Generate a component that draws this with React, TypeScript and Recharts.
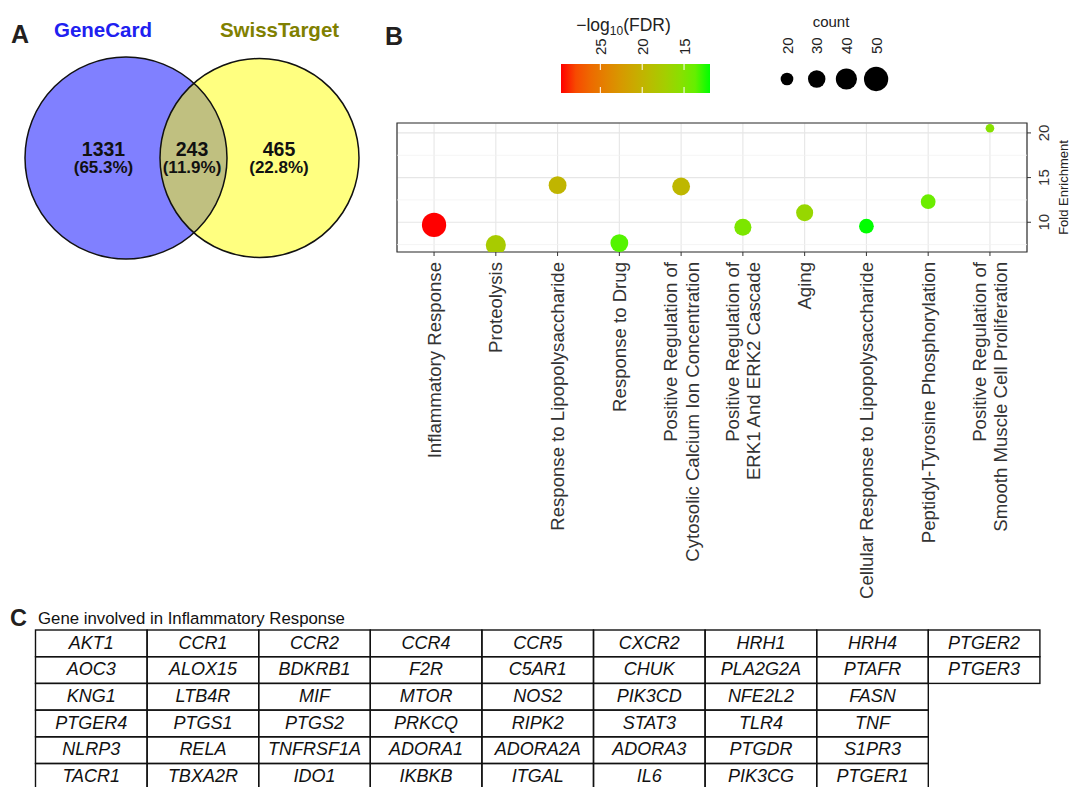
import React from 'react';
import { ScatterChart, Scatter, XAxis, YAxis, ZAxis, CartesianGrid, ReferenceLine, ReferenceArea, Cell } from 'recharts';

const FONT = '"Liberation Sans", Arial, Helvetica, sans-serif';

// A: Venn
const vennSets = ['GeneCard', 'SwissTarget'];
const vennCounts = [1331, 243, 465]; // GeneCard only, both, SwissTarget only

// B: GO bubble chart
const terms = [
  'Inflammatory Response',
  'Proteolysis',
  'Response to Lipopolysaccharide',
  'Response to Drug',
  'Positive Regulation of\nCytosolic Calcium Ion Concentration',
  'Positive Regulation of\nERK1 And ERK2 Cascade',
  'Aging',
  'Cellular Response to Lipopolysaccharide',
  'Peptidyl-Tyrosine Phosphorylation',
  'Positive Regulation of\nSmooth Muscle Cell Proliferation',
];
const foldEnrichment = [9.7, 7.45, 14.15, 7.67, 14.0, 9.44, 11.07, 9.56, 12.3, 20.52];
const geneCount = [50, 37, 31, 31, 31, 29, 29, 24, 24, 14];
const negLogFDR = [29.7, 17.6, 19.8, 13.1, 19.6, 14.7, 16.3, 11.9, 13.9, 15.3];
const yTicks = [10, 15, 20];
const yMinor = [7.5, 12.5, 17.5];
const fdrTicks = [25, 20, 15];
const countTicks = [20, 30, 40, 50];

// C: genes table
const geneRows = [
  ['AKT1', 'CCR1', 'CCR2', 'CCR4', 'CCR5', 'CXCR2', 'HRH1', 'HRH4', 'PTGER2'],
  ['AOC3', 'ALOX15', 'BDKRB1', 'F2R', 'C5AR1', 'CHUK', 'PLA2G2A', 'PTAFR', 'PTGER3'],
  ['KNG1', 'LTB4R', 'MIF', 'MTOR', 'NOS2', 'PIK3CD', 'NFE2L2', 'FASN'],
  ['PTGER4', 'PTGS1', 'PTGS2', 'PRKCQ', 'RIPK2', 'STAT3', 'TLR4', 'TNF'],
  ['NLRP3', 'RELA', 'TNFRSF1A', 'ADORA1', 'ADORA2A', 'ADORA3', 'PTGDR', 'S1PR3'],
  ['TACR1', 'TBXA2R', 'IDO1', 'IKBKB', 'ITGAL', 'IL6', 'PIK3CG', 'PTGER1'],
];

// --- colour scale (green -> red in Lab, like ggplot gradient) ---
const toLin = (c: number) => { c /= 255; return c <= 0.04045 ? c / 12.92 : Math.pow((c + 0.055) / 1.055, 2.4); };
const fromLin = (c: number) => {
  const v = c <= 0.0031308 ? 12.92 * c : 1.055 * Math.pow(c, 1 / 2.4) - 0.055;
  return Math.round(Math.max(0, Math.min(1, v)) * 255);
};
const Xn = 0.95047, Zn = 1.08883;
const f = (t: number) => (t > 0.008856 ? Math.cbrt(t) : 7.787 * t + 16 / 116);
const fi = (t: number) => (t > 0.206893 ? t * t * t : (t - 16 / 116) / 7.787);
function hexToLab(hex: string) {
  const r = toLin(parseInt(hex.slice(1, 3), 16));
  const g = toLin(parseInt(hex.slice(3, 5), 16));
  const b = toLin(parseInt(hex.slice(5, 7), 16));
  const X = (0.4124 * r + 0.3576 * g + 0.1805 * b) / Xn;
  const Y = 0.2126 * r + 0.7152 * g + 0.0722 * b;
  const Z = (0.0193 * r + 0.1192 * g + 0.9505 * b) / Zn;
  return [116 * f(Y) - 16, 500 * (f(X) - f(Y)), 200 * (f(Y) - f(Z))];
}
function labToHex([L, a, b]: number[]) {
  const fy = (L + 16) / 116;
  const X = Xn * fi(fy + a / 500), Y = fi(fy), Z = Zn * fi(fy - b / 200);
  const r = 3.2406 * X - 1.5372 * Y - 0.4986 * Z;
  const g = -0.9689 * X + 1.8758 * Y + 0.0415 * Z;
  const bl = 0.0557 * X - 0.204 * Y + 1.057 * Z;
  return '#' + [r, g, bl].map((c) => fromLin(c).toString(16).padStart(2, '0')).join('');
}
const LOW = hexToLab('#00ff00');
const HIGH = hexToLab('#ff0000');
const fdrMin = Math.min(...negLogFDR);
const fdrMax = Math.max(...negLogFDR);
const fdrColor = (v: number) => {
  const t = (v - fdrMin) / (fdrMax - fdrMin);
  return labToHex(LOW.map((l, k) => l + (HIGH[k] - l) * t));
};

// --- size scale (symbol area) ---
const SIZE_DOMAIN = [10, 50];
const SIZE_RANGE = [14, 464];
const areaFor = (c: number) =>
  SIZE_RANGE[0] + ((c - SIZE_DOMAIN[0]) / (SIZE_DOMAIN[1] - SIZE_DOMAIN[0])) * (SIZE_RANGE[1] - SIZE_RANGE[0]);

const data = terms.map((term, i) => ({
  idx: i + 1,
  term,
  fe: foldEnrichment[i],
  count: geneCount[i],
  fdr: negLogFDR[i],
}));

const X_DOMAIN = [0.4, terms.length + 0.6];
const Y_DOMAIN = [6.67, 21.11];

const XTick = (props: any) => {
  const { x, y, payload } = props;
  const lines = terms[Math.round(payload.value) - 1].split('\n');
  const lh = 21.6;
  return (
    <g transform={`translate(${x},${y + 4}) rotate(-90)`}>
      <text textAnchor="end" fontSize={18.6} fill="#333" fontFamily={FONT}>
        {lines.map((l, k) => (
          <tspan key={k} x={0} y={6.6 + (k - (lines.length - 1) / 2) * lh}>{l}</tspan>
        ))}
      </text>
    </g>
  );
};

const YTick = (props: any) => {
  const { x, y, payload } = props;
  return (
    <text transform={`translate(${x + 16},${y}) rotate(-90)`} textAnchor="middle" fontSize={15} fill="#333" fontFamily={FONT}>
      {payload.value}
    </text>
  );
};

const Venn = () => {
  const total = vennCounts.reduce((a, b) => a + b, 0);
  const pct = vennCounts.map((c) => `(${((c / total) * 100).toFixed(1)}%)`);
  const numX = [103.5, 192, 279];
  return (
    <g fontFamily={FONT} fontWeight="bold">
      <defs>
        <clipPath id="leftC"><circle cx={126} cy={158} r={101} /></clipPath>
      </defs>
      <circle cx={126} cy={158} r={101} fill="#8080ff" />
      <circle cx={259.5} cy={158} r={99.5} fill="#ffff80" />
      <circle cx={259.5} cy={158} r={99.5} fill="#c0c080" clipPath="url(#leftC)" />
      <circle cx={126} cy={158} r={101} fill="none" stroke="#111" strokeWidth={1.5} />
      <circle cx={259.5} cy={158} r={99.5} fill="none" stroke="#111" strokeWidth={1.5} />
      <text x={103} y={37} textAnchor="middle" fontSize={20.5} fill="#2020f0">{vennSets[0]}</text>
      <text x={279.5} y={37} textAnchor="middle" fontSize={20.5} fill="#808000">{vennSets[1]}</text>
      {vennCounts.map((c, i) => (
        <g key={i}>
          <text x={numX[i]} y={156} textAnchor="middle" fontSize={19.5} fill="#111">{c}</text>
          <text x={numX[i]} y={173} textAnchor="middle" fontSize={17} fill="#111">{pct[i]}</text>
        </g>
      ))}
    </g>
  );
};

const Legends = () => {
  const barX = 561, barY = 64, barW = 149, barH = 29;
  const stops = Array.from({ length: 11 }, (_, k) => k / 10);
  const posOf = (v: number) => barX + ((fdrMax - v) / (fdrMax - fdrMin)) * barW;
  const keyX0 = 787, keyStep = 29.7;
  return (
    <g fontFamily={FONT} fill="#222">
      <defs>
        <linearGradient id="fdrGrad" x1="0" x2="1" y1="0" y2="0">
          {stops.map((s) => (
            <stop key={s} offset={s} stopColor={fdrColor(fdrMax - s * (fdrMax - fdrMin))} />
          ))}
        </linearGradient>
      </defs>
      <text x={623.5} y={30.5} textAnchor="middle" fontSize={17.5}>
        −log<tspan fontSize={12} dy={4}>10</tspan><tspan dy={-4}>(FDR)</tspan>
      </text>
      <rect x={barX} y={barY} width={barW} height={barH} fill="url(#fdrGrad)" />
      {fdrTicks.map((v) => (
        <g key={v}>
          <line x1={posOf(v)} x2={posOf(v)} y1={barY} y2={barY + 6} stroke="#fff" strokeWidth={1} />
          <line x1={posOf(v)} x2={posOf(v)} y1={barY + barH - 6} y2={barY + barH} stroke="#fff" strokeWidth={1} />
          <text transform={`translate(${posOf(v) + 5.5},55) rotate(-90)`} fontSize={15}>{v}</text>
        </g>
      ))}
      <text x={831} y={27} textAnchor="middle" fontSize={15}>count</text>
      {countTicks.map((c, i) => (
        <g key={c}>
          <circle cx={keyX0 + i * keyStep} cy={79} r={Math.sqrt(areaFor(c) / Math.PI)} fill="#000" />
          <text transform={`translate(${keyX0 + i * keyStep + 5.5},54) rotate(-90)`} fontSize={15}>{c}</text>
        </g>
      ))}
    </g>
  );
};

const GeneTable = () => {
  const left = 35.5, top = 630, cw = 111.6, rh = 26.7;
  return (
    <g fontFamily={FONT}>
      <text x={38} y={623.5} fontSize={16.8} fill="#111">Gene involved in Inflammatory Response</text>
      {geneRows.map((row, r) =>
        row.map((g, c) => (
          <g key={`${r}-${c}`}>
            <rect x={left + c * cw} y={top + r * rh} width={cw} height={rh} fill="none" stroke="#111" strokeWidth={1.4} />
            <text x={left + c * cw + cw / 2} y={top + r * rh + rh / 2 + 5.2} textAnchor="middle" fontSize={18} fontStyle="italic" fill="#111">
              {g}
            </text>
          </g>
        ))
      )}
    </g>
  );
};

export default function App() {
  return (
    <div style={{ position: 'absolute', left: 0, top: 0, width: 1071, height: 787, background: '#fff', overflow: 'hidden', fontFamily: FONT }}>
      <div style={{ position: 'absolute', left: 0, top: 0 }}>
        <ScatterChart width={1071} height={600} margin={{ top: 123, right: 4, bottom: 18, left: 397 }}>
          <CartesianGrid stroke="#e6e6e6" strokeWidth={1.1} />
          {yMinor.map((v) => (
            <ReferenceLine key={v} y={v} stroke="#f3f3f3" strokeWidth={0.8} />
          ))}
          <XAxis
            type="number"
            dataKey="idx"
            domain={X_DOMAIN}
            ticks={terms.map((_, i) => i + 1)}
            interval={0}
            allowDataOverflow
            axisLine={false}
            tickSize={4}
            tickLine={{ stroke: '#333' }}
            tick={<XTick />}
            height={330}
          />
          <YAxis
            type="number"
            dataKey="fe"
            orientation="right"
            domain={Y_DOMAIN}
            ticks={yTicks}
            allowDataOverflow
            axisLine={false}
            tickSize={4}
            tickLine={{ stroke: '#333' }}
            tick={<YTick />}
            width={40}
          />
          <ZAxis type="number" dataKey="count" domain={SIZE_DOMAIN} range={SIZE_RANGE} />
          <Scatter data={data} isAnimationActive={false}>
            {data.map((d, i) => (
              <Cell key={i} fill={fdrColor(d.fdr)} />
            ))}
          </Scatter>
          <ReferenceArea x1={X_DOMAIN[0]} x2={X_DOMAIN[1]} y1={Y_DOMAIN[0]} y2={Y_DOMAIN[1]} fill="none" fillOpacity={0} stroke="#333" strokeWidth={1.2} strokeOpacity={1} />
        </ScatterChart>
      </div>
      <svg width={1071} height={787} style={{ position: 'absolute', left: 0, top: 0, pointerEvents: 'none' }}>
        <g fontFamily={FONT} fontWeight="bold" fill="#231f20">
          <text x={11} y={43} fontSize={25}>A</text>
          <text x={385} y={45} fontSize={25}>B</text>
          <text x={10} y={626} fontSize={23.5}>C</text>
        </g>
        <Venn />
        <Legends />
        <text transform="translate(1068,187.5) rotate(-90)" textAnchor="middle" fontSize={13} fill="#222" fontFamily={FONT}>
          Fold Enrichment
        </text>
        <GeneTable />
      </svg>
    </div>
  );
}
